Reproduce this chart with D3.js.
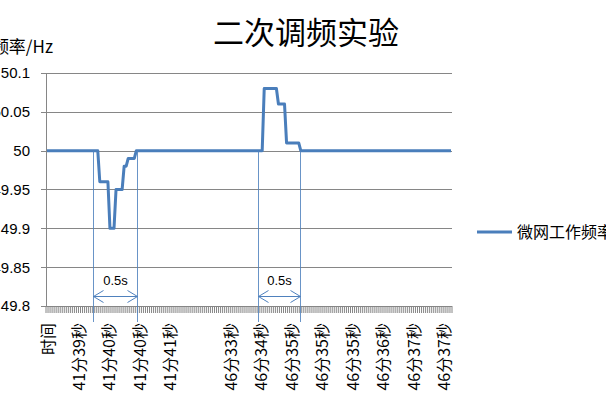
<!DOCTYPE html>
<html><head><meta charset="utf-8">
<script src="https://cdn.jsdelivr.net/npm/d3@7/dist/d3.min.js"></script>
<style>
html,body{margin:0;padding:0;background:#fff;overflow:hidden;}
svg{display:block;}
</style></head>
<body>
<script>
// ---- data ----
const title = "二次调频实验";
const yAxisTitle = "频率/Hz";
const seriesName = "微网工作频率";
const yTicks = [49.8, 49.85, 49.9, 49.95, 50, 50.05, 50.1];
const yTickLabels = ["49.8", "49.85", "49.9", "49.95", "50", "50.05", "50.1"];
// category labels shown on the axis (every 15th sample)
const tickLabels = ["时间", "41分39秒", "41分40秒", "41分40秒", "41分41秒", "",
  "46分33秒", "46分34秒", "46分35秒", "46分35秒", "46分35秒", "46分36秒", "46分37秒", "46分37秒"];
const labelEvery = 15;
// frequency samples (Hz), 200 samples
const values = [
  50,50,50,50,50,50,50,50,50,50,
  50,50,50,50,50,50,50,50,50,50,
  50,50,50,50,50,50,49.96,49.96,49.96,49.96,
  49.96,49.9,49.9,49.9,49.95,49.95,49.95,49.95,49.98,49.98,
  49.99,49.99,49.99,49.99,50,50,50,50,50,50,
  50,50,50,50,50,50,50,50,50,50,
  50,50,50,50,50,50,50,50,50,50,
  50,50,50,50,50,50,50,50,50,50,
  50,50,50,50,50,50,50,50,50,50,
  50,50,50,50,50,50,50,50,50,50,
  50,50,50,50,50,50,50,50.08,50.08,50.08,
  50.08,50.08,50.08,50.08,50.06,50.06,50.06,50.06,50.01,50.01,
  50.01,50.01,50.01,50.01,50.01,50,50,50,50,50,
  50,50,50,50,50,50,50,50,50,50,
  50,50,50,50,50,50,50,50,50,50,
  50,50,50,50,50,50,50,50,50,50,
  50,50,50,50,50,50,50,50,50,50,
  50,50,50,50,50,50,50,50,50,50,
  50,50,50,50,50,50,50,50,50,50,
  50,50,50,50,50,50,50,50,50,50
];
const categories = values.map((v, i) => i);
// 0.5s duration annotations, as sample index ranges
const spans = [{from: 22.6, to: 44.1, label: "0.5s"}, {from: 104, to: 124.7, label: "0.5s"}];

// ---- chart ----
(function () {
const W = 606, H = 404;
const svg = d3.select("body").append("svg").attr("width", W).attr("height", H);
const pL = 46, pR = 452, pT = 73, pB = 306;
const x = d3.scaleBand().domain(categories).range([pL, pR]);
const bw = x.bandwidth();
const cx = i => pL + (i + 0.5) * bw;
const y = d3.scaleLinear().domain([49.8, 50.1]).range([pB, pT]);
const grid = "#868686";
const cjk = "'Noto Sans CJK SC', sans-serif";
const num = "'Liberation Sans', Arial, sans-serif";

// title
svg.append("text").attr("x", 306).attr("y", 44).attr("text-anchor", "middle")
  .attr("font-family", cjk).attr("font-size", 31).attr("fill", "#000").text(title);

// y axis title
svg.append("text").attr("x", 53).attr("y", 53).attr("text-anchor", "end")
  .attr("font-family", cjk).attr("font-size", 17).attr("fill", "#000").text(yAxisTitle);

// gridlines
svg.append("g").selectAll("line").data(yTicks.slice(1)).join("line")
  .attr("x1", pL - 5).attr("x2", pR).attr("y1", d => Math.round(y(d)) + 0.5).attr("y2", d => Math.round(y(d)) + 0.5)
  .attr("stroke", grid).attr("stroke-width", 1);
// y axis line
svg.append("line").attr("x1", pL + 0.5).attr("x2", pL + 0.5).attr("y1", pT).attr("y2", pB)
  .attr("stroke", grid);
// y tick labels
svg.append("g").selectAll("text").data(yTicks).join("text")
  .attr("x", 30).attr("y", d => y(d)).attr("dy", "0.36em").attr("text-anchor", "end")
  .attr("font-family", num).attr("font-size", 15).attr("fill", "#000")
  .text((d, i) => yTickLabels[i]);

// x axis (band axis with tick marks at every category boundary)
const xAxis = svg.append("g");
xAxis.append("line").attr("x1", pL - 5).attr("x2", pR).attr("y1", pB + 0.5).attr("y2", pB + 0.5).attr("stroke", grid);
xAxis.selectAll("line.tk").data(d3.range(categories.length + 1)).join("line").attr("class", "tk")
  .attr("x1", i => pL + i * bw).attr("x2", i => pL + i * bw)
  .attr("y1", pB).attr("y2", pB + 7).attr("stroke", grid).attr("stroke-width", 1);
xAxis.selectAll("text").data(tickLabels).join("text")
  .attr("transform", (d, k) => `translate(${cx(k * labelEvery) + 1.5},323) rotate(-90)`)
  .attr("text-anchor", "end").attr("dy", "0.36em")
  .attr("font-family", cjk).attr("font-size", 16).attr("fill", "#000").text(d => d);

// series line
const line = d3.line().x((d, i) => cx(i)).y(d => y(d));
svg.append("path").datum(values).attr("d", line).attr("fill", "none")
  .attr("stroke", "#4A7EBB").attr("stroke-width", 3).attr("stroke-linejoin", "round");

// annotations
const ann = "#4F81BD";
spans.forEach(s => {
  const x1 = Math.round(cx(s.from)) + 0.5, x2 = Math.round(cx(s.to)) + 0.5;
  const g = svg.append("g").attr("stroke", ann).attr("fill", "none").attr("stroke-width", 1);
  [x1, x2].forEach(xx => g.append("line").attr("x1", xx).attr("x2", xx).attr("y1", y(50)).attr("y2", 322).attr("stroke-opacity", 0.85));
  const ay = 296.5;
  g.append("line").attr("x1", x1).attr("x2", x2).attr("y1", ay).attr("y2", ay);
  g.append("path").attr("d", `M${x1 + 10},${ay - 6} L${x1},${ay} L${x1 + 10},${ay + 6}`);
  g.append("path").attr("d", `M${x2 - 10},${ay - 6} L${x2},${ay} L${x2 - 10},${ay + 6}`);
  svg.append("text").attr("x", (x1 + x2) / 2).attr("y", 285).attr("text-anchor", "middle")
    .attr("font-family", num).attr("font-size", 13).attr("fill", "#000").text(s.label);
});

// legend
svg.append("line").attr("x1", 477).attr("x2", 512).attr("y1", 232).attr("y2", 232)
  .attr("stroke", "#4A7EBB").attr("stroke-width", 3);
svg.append("text").attr("x", 517).attr("y", 238).attr("font-family", cjk).attr("font-size", 16)
  .attr("fill", "#000").text(seriesName);
})();
</script>
</body></html>
